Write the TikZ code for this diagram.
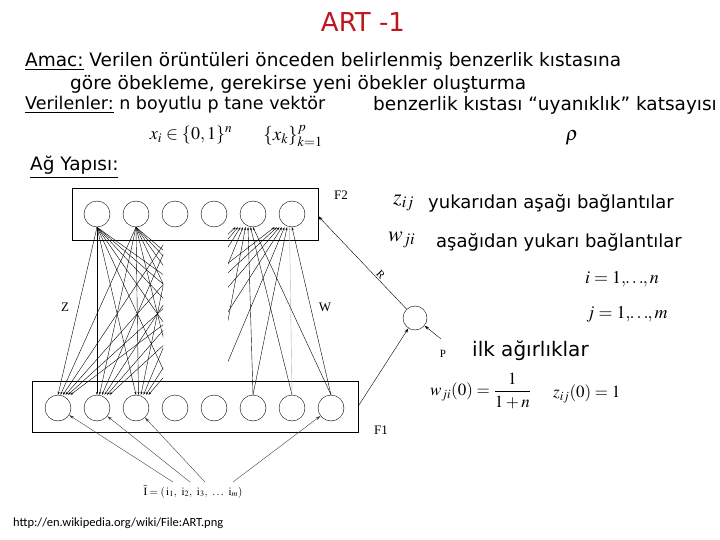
\documentclass[tikz,border=0pt]{standalone}
\usepackage{mathptmx}
\usepackage{fontspec}
\setmainfont{DejaVu Sans}
\newfontfamily\netfont{Liberation Serif}
\newfontfamily\webfont{Carlito}
\usetikzlibrary{arrows.meta,positioning}
\definecolor{titlered}{RGB}{192,20,30}

\begin{document}
\begin{tikzpicture}[x=1pt, y=-1pt, line width=0.4pt,
  txt/.style={font=\fontsize{18.5}{22}\selectfont, inner sep=0pt, anchor=west},
  rtxt/.style={txt, font=\fontsize{18}{22}\selectfont},
  mth/.style={font=\fontsize{18}{22}\selectfont, inner sep=0pt},
  net/.style={font=\netfont\fontsize{13}{15}\selectfont, inner sep=1pt},
  unit/.style={draw, circle, minimum size=26pt, inner sep=0pt},
  layer/.style={draw, minimum height=52pt, inner sep=0pt},
  arr/.style={-{Stealth[length=5pt,width=3pt]}},
  tip/.style={-{Stealth[length=3pt,width=2pt]}}]
  \useasboundingbox (0,0) rectangle (720,540);

  % title and texts
  \node[font=\fontsize{26}{30}\selectfont, text=titlered] (title) at (363,22) {ART -1};
  \node[txt] (amac) at (25,61) {\underline{Amac:} Verilen örüntüleri önceden belirlenmiş benzerlik kıstasına};
  \node[txt] (amac2) at (70,84) {göre öbekleme, gerekirse yeni öbekler oluşturma};
  \node[txt, font=\fontsize{17.5}{21}\selectfont] (veri) at (25,105) {\underline{Verilenler:} n boyutlu p tane vektör};
  \node[txt] (esik) at (373,105) {benzerlik kıstası “uyanıklık” katsayısı};
  \node[mth] (xi) at (191,135) {$x_i\in\{0,1\}^n$};
  \node[mth, font=\fontsize{19}{23}\selectfont] (xk) at (293,136) {$\{x_k\}_{k=1}^{p}$};
  \node[mth, font=\fontsize{20}{24}\selectfont] (rho) at (572,138) {$\rho$};
  \node[txt] (yapi) at (30,167) {\underline{Ağ Yapısı:}};

  % F2 and F1 layers
  \node[layer, minimum width=246pt] (F2box) at (195,214) {};
  \node[layer, minimum width=326pt, minimum height=51pt] (F1box) at (195,407) {};
  \foreach \k in {1,...,6}
    \node[unit] (a\k) at (58+39*\k,214) {};
  \foreach \k in {0,...,7}
    \node[unit] (b\k) at (58+39*\k,408) {};
  \node[net] (F2lab) at (341,195) {F2};
  \node[net] (F1lab) at (381,430) {F1};
  \node[net] (Zlab) at (65,307) {Z};
  \node[net] (Wlab) at (325,307) {W};

  % top-down weights Z
  \begin{scope}
    \clip (30,222) rectangle (163,400);
    \foreach \j in {1,...,6}
      \foreach \i in {0,...,7}
        \draw[tip] (a\j.south) -- ([xshift={(\j-1)*2.5pt}]b\i.north);
  \end{scope}

  % bottom-up weights W
  \begin{scope}
    \clip (228,222) rectangle (345,400);
    \foreach \i in {0,...,7}
      \foreach \j in {5,6} {
        \ifnum\i\j=66 \def\lc{gray!60}\else\def\lc{black}\fi
        \draw[tip, \lc] (b\i.north) -- ([xshift={(\i-7)*2.5pt}]a\j.south);
      }
  \end{scope}

  % orienting unit
  \node[unit, minimum size=24pt] (orient) at (415,318) {};
  \coordinate (rin) at (318,216);
  \coordinate (f1out) at (359,405);
  \coordinate (pin) at (441,339);
  \draw[arr] (orient) -- node[net, sloped, above, pos=0.33, font=\netfont\fontsize{11}{13}\selectfont] (Rlab) {R} (rin);
  \draw[arr] (f1out) -- (orient);
  \draw[arr] (pin) -- (orient);
  \node[net, font=\netfont\fontsize{11}{13}\selectfont] (Plab) at (443,354) {P};

  % input vector
  \node[font=\fontsize{11}{13}\selectfont] (inp) at (193,492)
    {$\bar{\mathrm{I}} = (\,\mathrm{i}_1,\ \mathrm{i}_2,\ \mathrm{i}_3,\ \ldots\ \mathrm{i}_m)$};
  \coordinate (s0) at (173,482);
  \coordinate (s1) at (190,482);
  \coordinate (s2) at (205,482);
  \coordinate (s7) at (233,482);
  \foreach \k in {0,1,2,7}
    \draw[arr, black!75] (s\k) -- (b\k);

  % right side notes
  \node[mth, anchor=west, font=\fontsize{22}{26}\selectfont] (zij) at (393,203) {$z_{ij}$};
  \node[rtxt] (zdesc) at (428,203) {yukarıdan aşağı bağlantılar};
  \node[mth, anchor=west, font=\fontsize{22}{26}\selectfont] (wji) at (388,240) {$w_{ji}$};
  \node[rtxt] (wdesc) at (436,242) {aşağıdan yukarı bağlantılar};
  \node[mth] (irange) at (622,279) {$i=1,\mkern-3mu\ldots\mkern-3mu,n$};
  \node[mth] (jrange) at (627,314) {$j=1,\mkern-3mu\ldots\mkern-3mu,m$};
  \node[txt, font=\fontsize{20}{24}\selectfont] (ilk) at (472,351) {ilk ağırlıklar};
  \node[mth, anchor=west, font=\fontsize{17}{21}\selectfont] (winit) at (430,391) {$w_{ji}(0)=\displaystyle\frac{1}{1+n}$};
  \node[mth, anchor=west, font=\fontsize{17}{20}\selectfont] (zinit) at (553,394) {$z_{ij}(0)=1$};

  \node[anchor=west, inner sep=0pt, font=\webfont\fontsize{12.5}{14}\selectfont] (src) at (13,523)
    {http://en.wikipedia.org/wiki/File:ART.png};
\end{tikzpicture}
\end{document}
